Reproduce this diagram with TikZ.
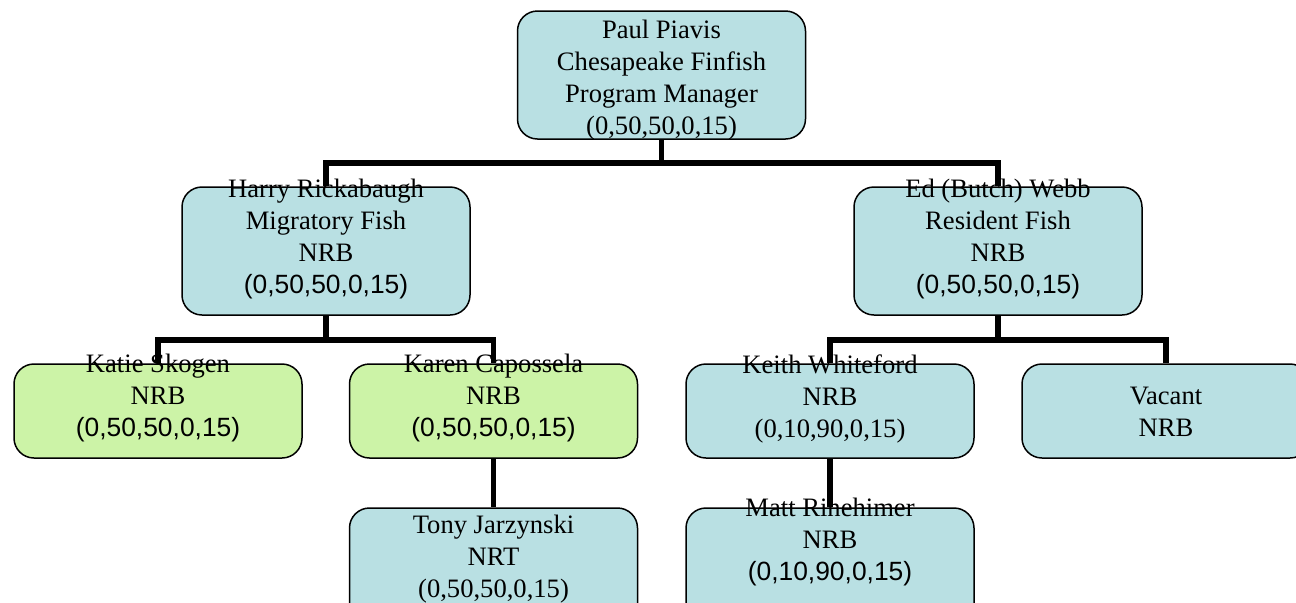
\documentclass[tikz,border=0pt]{standalone}
\usepackage{fontspec}
\setmainfont{Liberation Serif}
\newfontfamily\arialfont{Liberation Sans}
\definecolor{boxblue}{HTML}{B9E0E3}
\definecolor{boxgreen}{HTML}{CCF3A7}
\newcommand{\ar}[1]{{\arialfont\fontsize{13.2}{16}\selectfont #1}}
\begin{document}
\begin{tikzpicture}[x=0.5pt,y=-0.5pt,
  orgbox/.style={draw=black, line width=0.75pt, rounded corners=10pt, fill=boxblue,
                 minimum width=144pt, inner sep=0pt},
  tallbox/.style={orgbox, minimum height=64pt},
  lowbox/.style={orgbox, minimum height=47pt},
  greenbox/.style={lowbox, fill=boxgreen},
  txt/.style={align=center, inner sep=0pt, font=\fontsize{13.3}{16}\selectfont},
  conn/.style={draw=black, line width=2.8pt}]
\clip (0,0) rectangle (1296,602);
% boxes
\node[tallbox] (paul) at (661.5,75) {};
\node[tallbox] (harry) at (326,251) {};
\node[tallbox] (ed) at (998,251) {};
\node[greenbox] (katie) at (158,411) {};
\node[greenbox] (karen) at (493.5,411) {};
\node[lowbox] (keith) at (830,411) {};
\node[lowbox] (vacant) at (1166,411) {};
\node[orgbox, minimum height=60pt] (tony) at (493.5,568) {};
\node[orgbox, minimum height=60pt] (matt) at (830,568) {};
% connectors
\coordinate (j1) at (661.5,163);
\coordinate (j2) at (326,340);
\coordinate (j3) at (998,340);
\draw[conn] (paul.south) -- (j1);
\draw[conn] (harry.north) |- (j1) -| (ed.north);
\draw[conn] (harry.south) -- (j2);
\draw[conn] (katie.north) |- (j2) -| (karen.north);
\draw[conn] (ed.south) -- (j3);
\draw[conn] (keith.north) |- (j3) -| (vacant.north);
\draw[conn] (karen.south) -- (tony.north);
\draw[conn] (keith.south) -- (matt.north);
% texts
\node[txt] (paul-t) at (661.5,80.5) {Paul Piavis\\Chesapeake Finfish\\Program Manager\\(0,50,50,0,15)};
\node[txt] (harry-t) at (326,238.5) {Harry Rickabaugh\\Migratory Fish\\NRB\\\ar{(0,50,50,0,15)}};
\node[txt] (ed-t) at (998,238.5) {Ed (Butch) Webb\\Resident Fish\\NRB\\\ar{(0,50,50,0,15)}};
\node[txt] (katie-t) at (158,398) {Katie Skogen\\NRB\\\ar{(0,50,50,0,15)}};
\node[txt] (karen-t) at (493.5,398) {Karen Capossela\\NRB\\\ar{(0,50,50,0,15)}};
\node[txt] (keith-t) at (830,399) {Keith Whiteford\\NRB\\(0,10,90,0,15)};
\node[txt] (vacant-t) at (1166,412) {Vacant\\NRB};
\node[txt] (tony-t) at (493.5,559.5) {Tony Jarzynski\\NRT\\(0,50,50,0,15)};
\node[txt] (matt-t) at (830,541.5) {Matt Rinehimer\\NRB\\\ar{(0,10,90,0,15)}};
\end{tikzpicture}
\end{document}
